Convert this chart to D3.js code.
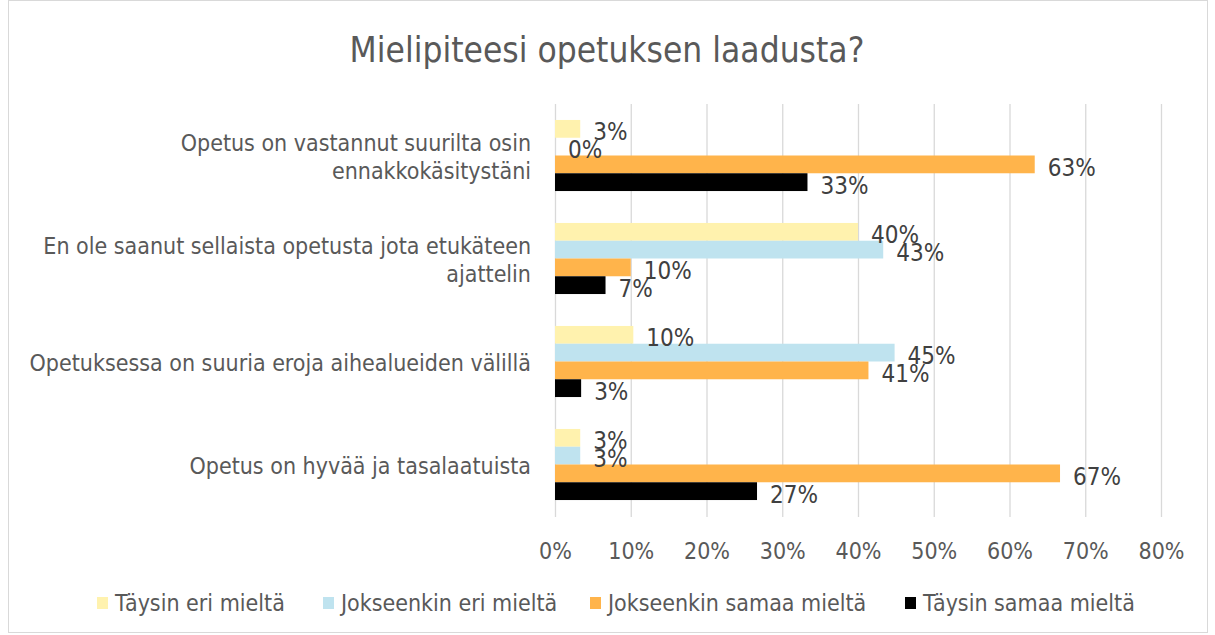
<!DOCTYPE html>
<html>
<head>
<meta charset="utf-8">
<script src="https://cdn.jsdelivr.net/npm/d3@7"></script>
<style>
  body { margin: 0; background: #fff; }
  svg text { font-family: 'DejaVu Sans Condensed', 'DejaVu Sans', sans-serif; font-stretch: condensed; }
</style>
</head>
<body>
<div class="chart"></div>
<script>
const categories = [
    ['Opetus on vastannut suurilta osin', 'ennakkokäsitystäni'],
    ['En ole saanut sellaista opetusta jota etukäteen', 'ajattelin'],
    ['Opetuksessa on suuria eroja aihealueiden välillä'],
    ['Opetus on hyvää ja tasalaatuista']
];
const seriesNames = ['Täysin eri mieltä', 'Jokseenkin eri mieltä', 'Jokseenkin samaa mieltä', 'Täysin samaa mieltä'];
const seriesColors = ['#fff2ae', '#bfe3ef', '#ffb44b', '#000000'];
// values in percent, one array per series (category order top to bottom)
const taysinEri = [3.33, 40.0, 10.34, 3.33];
const jokseenkinEri = [0, 43.33, 44.83, 3.33];
const jokseenkinSamaa = [63.33, 10.0, 41.38, 66.67];
const taysinSamaa = [33.33, 6.67, 3.45, 26.67];
const tickValues = [0, 10, 20, 30, 40, 50, 60, 70, 80];

const seriesValues = [taysinEri, jokseenkinEri, jokseenkinSamaa, taysinSamaa];

const svgWidth = 1215;
const svgHeight = 635;

const svg = d3.select('.chart').append('svg')
    .attr('width', svgWidth)
    .attr('height', svgHeight);

// chart border
svg.append('rect')
    .attr('x', 8.5).attr('y', 0.5)
    .attr('width', 1199).attr('height', 632)
    .attr('fill', '#fff')
    .attr('stroke', '#d9d9d9');

// title
svg.append('text')
    .attr('x', 607).attr('y', 62)
    .attr('text-anchor', 'middle')
    .attr('font-size', '35px')
    .attr('fill', '#595959')
    .text('Mielipiteesi opetuksen laadusta?');

const xScale = d3.scaleLinear().domain([0, 80]).range([555, 1161]);
const yScale = d3.scaleBand()
    .domain(d3.range(categories.length))
    .range([104, 516])
    .paddingInner(0.31)
    .paddingOuter(0.155);
const inner = d3.scaleBand()
    .domain(d3.range(seriesNames.length))
    .range([0, yScale.bandwidth()]);

// gridlines
svg.append('g')
    .selectAll('line')
    .data(tickValues)
    .join('line')
    .attr('x1', (d) => xScale(d) + 0.5)
    .attr('x2', (d) => xScale(d) + 0.5)
    .attr('y1', 104)
    .attr('y2', 517)
    .attr('stroke', '#d9d9d9')
    .attr('stroke-width', 1.3);

// x axis tick labels
const xAxis = svg.append('g')
    .attr('transform', 'translate(0,536)')
    .call(d3.axisBottom(xScale).tickValues(tickValues).tickSize(0).tickFormat((d) => d + '%'));
xAxis.select('.domain').remove();
xAxis.selectAll('text')
    .attr('font-size', '23px')
    .attr('fill', '#595959')
    .attr('dy', '0.85em');

// category labels
const catLabel = svg.append('g')
    .selectAll('text')
    .data(categories)
    .join('text')
    .attr('text-anchor', 'end')
    .attr('font-size', '23px')
    .attr('fill', '#595959')
    .attr('transform', (d, i) => `translate(531,${yScale(i) + yScale.bandwidth() / 2 + 1})`);
catLabel.selectAll('tspan')
    .data((d) => d.map((line, j) => ({ line, j, n: d.length })))
    .join('tspan')
    .attr('x', 0)
    .attr('y', (d) => (d.j - (d.n - 1) / 2) * 28)
    .attr('dy', '0.35em')
    .text((d) => d.line);

// bars
const groups = svg.append('g')
    .selectAll('g')
    .data(categories)
    .join('g')
    .attr('transform', (d, i) => `translate(0,${yScale(i)})`);

groups.each(function (c, ci) {
    const g = d3.select(this);
    const rows = seriesValues.map((vals, si) => ({ si, v: vals[ci] }));
    g.selectAll('rect')
        .data(rows)
        .join('rect')
        .attr('x', xScale(0))
        .attr('y', (d) => inner(d.si))
        .attr('width', (d) => xScale(d.v) - xScale(0))
        .attr('height', inner.bandwidth())
        .attr('fill', (d) => seriesColors[d.si]);
    g.selectAll('text')
        .data(rows)
        .join('text')
        .attr('x', (d) => xScale(d.v) + 13)
        .attr('y', (d) => inner(d.si) + inner.bandwidth() / 2 + 3)
        .attr('dy', '0.35em')
        .attr('font-size', '24px')
        .attr('fill', '#404040')
        .text((d) => Math.round(d.v) + '%');
});

// legend
const legendX = [97, 323, 590, 905];
const legend = svg.append('g')
    .selectAll('g')
    .data(seriesNames)
    .join('g')
    .attr('transform', (d, i) => `translate(${legendX[i]},603)`);
legend.append('rect')
    .attr('x', 0).attr('y', -6)
    .attr('width', 11).attr('height', 12)
    .attr('fill', (d, i) => seriesColors[i]);
legend.append('text')
    .attr('x', 18)
    .attr('dy', '0.35em')
    .attr('font-size', '23px')
    .attr('fill', '#595959')
    .text((d) => d);
</script>
</body>
</html>
